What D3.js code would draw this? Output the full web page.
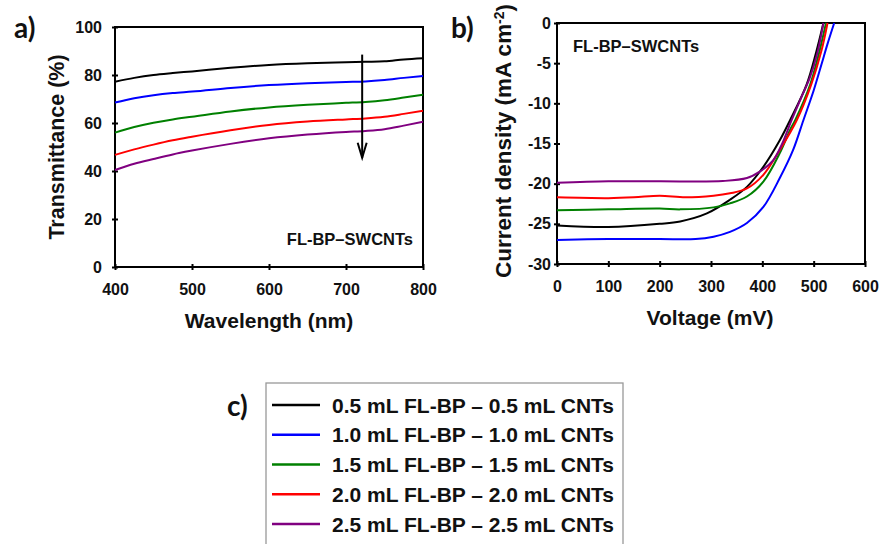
<!DOCTYPE html>
<html>
<head>
  <meta charset="utf-8">
  <style>
    body { margin: 0px; padding: 0px; background: #fff; }
    .tick text { font-family: "Liberation Sans", Arial, sans-serif; font-weight: bold; font-size: 16px; fill: #111; }
    .title { font-family: "Liberation Sans", Arial, sans-serif; font-weight: bold; fill: #111; }
    .lab { font-family: Lato, "Open Sans", sans-serif; font-weight: bold; fill: #111; }
    .tag { font-family: "Liberation Sans", Arial, sans-serif; font-weight: bold; fill: #111; }
  </style>
</head>
<body>
  <div id="chart"></div>
  <script src="https://d3js.org/d3.v7.min.js"></script>
  <script>
    // series names + colours
    var seriesNames = ['0.5 mL FL-BP \u2013 0.5 mL CNTs', '1.0 mL FL-BP \u2013 1.0 mL CNTs', '1.5 mL FL-BP \u2013 1.5 mL CNTs',
                       '2.0 mL FL-BP \u2013 2.0 mL CNTs', '2.5 mL FL-BP \u2013 2.5 mL CNTs'];
    var seriesColors = ['#000000', '#0000ff', '#008000', '#ff0000', '#800080'];

    // panel a: transmittance (%)
    var wavelength = [400, 425, 450, 475, 500, 550, 600, 650, 700, 725, 750, 775, 800];
    var trans05 = [77.2, 78.8, 80.0, 80.8, 81.5, 83.0, 84.2, 84.9, 85.3, 85.5, 85.7, 86.5, 87.0];
    var trans10 = [68.5, 70.3, 71.6, 72.5, 73.1, 74.6, 75.8, 76.6, 77.1, 77.3, 77.9, 78.8, 79.6];
    var trans15 = [56.0, 58.3, 60.1, 61.5, 62.6, 64.8, 66.5, 67.6, 68.4, 68.8, 69.5, 70.6, 71.8];
    var trans20 = [46.7, 49.0, 51.0, 52.8, 54.3, 57.0, 59.2, 60.6, 61.5, 61.9, 62.6, 63.8, 65.1];
    var trans25 = [40.4, 43.0, 45.0, 46.9, 48.5, 51.3, 53.6, 55.2, 56.3, 56.7, 57.4, 58.9, 60.5];
    var wlTicks = [400, 500, 600, 700, 800];
    var transTicks = [0, 20, 40, 60, 80, 100];

    // panel b: J-V curves (mV, mA cm-2)
    var volt05 = [0, 100, 200, 240, 292, 337, 370, 402, 434, 454, 486, 505, 519];
    var curr05 = [-25.2, -25.4, -25.0, -24.7, -23.7, -22.0, -20.4, -17.9, -14.6, -12.1, -7.7, -3.6, 0];
    var volt10 = [0, 100, 200, 270, 305, 337, 370, 402, 434, 460, 480, 500, 515, 527, 540];
    var curr10 = [-27.0, -26.9, -26.9, -26.9, -26.6, -26.0, -24.9, -22.9, -19.3, -15.8, -12.1, -8.4, -5.2, -2.6, 0];
    var volt15 = [0, 100, 200, 240, 305, 337, 370, 402, 434, 454, 464, 493, 511, 524];
    var curr15 = [-23.3, -23.2, -23.1, -23.2, -22.95, -22.45, -21.6, -19.75, -16.2, -13.3, -12.1, -7.7, -3.6, 0];
    var volt20 = [0, 100, 150, 200, 250, 305, 337, 370, 402, 434, 467, 495, 515, 527];
    var curr20 = [-21.7, -21.8, -21.7, -21.5, -21.7, -21.5, -21.2, -20.6, -18.9, -15.8, -12.1, -7.7, -3.5, 0];
    var volt25 = [0, 100, 200, 323, 370, 395, 421, 438, 457, 475, 492, 507, 519];
    var curr25 = [-19.9, -19.7, -19.7, -19.67, -19.3, -18.5, -17.1, -15.1, -12.1, -9.4, -6.9, -3.8, 0];
    var voltTicks = [0, 100, 200, 300, 400, 500, 600];
    var currTicks = [0, -5, -10, -15, -20, -25, -30];

    var transSets = [trans05, trans10, trans15, trans20, trans25];
    var voltSets = [volt05, volt10, volt15, volt20, volt25];
    var currSets = [curr05, curr10, curr15, curr20, curr25];

    var svg = d3.select('#chart').append('svg').attr('width', 883).attr('height', 544);

    function frame(g, x, y, xt, yt, ypad) {
      var xr = x.range(), yr = y.range();
      var ax = g.append('g').attr('transform', 'translate(0,' + yr[0] + ')')
        .call(d3.axisBottom(x).tickValues(xt).tickSize(3).tickPadding(14).tickFormat(function(d) { return String(d); }));
      ax.selectAll('.tick line').attr('y1', -3).attr('stroke-width', 2);
      var ay = g.append('g').attr('transform', 'translate(' + xr[0] + ',0)')
        .call(d3.axisLeft(y).tickValues(yt).tickSize(3).tickPadding(ypad).tickFormat(function(d) { return String(d); }));
      ay.selectAll('.tick line').attr('x1', 3).attr('stroke-width', 2);
      ax.select('.domain').remove();
      ay.select('.domain').remove();
      g.append('rect').attr('x', xr[0]).attr('y', yr[1]).attr('width', xr[1] - xr[0]).attr('height', yr[0] - yr[1])
        .attr('fill', 'none').attr('stroke', '#000').attr('stroke-width', 2);
      return [ax, ay];
    }

    // ---- panel a
    var xA = d3.scaleLinear().domain([400, 800]).range([115, 423]);
    var yA = d3.scaleLinear().domain([0, 100]).range([267, 27]);
    var gA = svg.append('g');
    frame(gA, xA, yA, wlTicks, transTicks, 10);
    var lineA = d3.line().x(function(d) { return xA(d[0]); }).y(function(d) { return yA(d[1]); }).curve(d3.curveMonotoneX);
    transSets.forEach(function(s, i) {
      gA.append('path').datum(wavelength.map(function(w, j) { return [w, s[j]]; }))
        .attr('d', lineA).attr('fill', 'none').attr('stroke', seriesColors[i]).attr('stroke-width', 2);
    });
    // arrow
    gA.append('line').attr('x1', xA(721)).attr('x2', xA(721)).attr('y1', yA(88.5)).attr('y2', yA(45.5))
      .attr('stroke', '#000').attr('stroke-width', 2);
    gA.append('path')
      .attr('d', 'M' + (xA(721) - 4.5) + ',' + (yA(45.5) - 15) + 'L' + xA(721) + ',' + yA(45.5) + 'L' + (xA(721) + 4.5) + ',' + (yA(45.5) - 15))
      .attr('fill', 'none').attr('stroke', '#000').attr('stroke-width', 2);
    gA.append('text').attr('class', 'tag').attr('x', 413).attr('y', 245).attr('text-anchor', 'end')
      .style('font-size', '16.5px').text('FL-BP\u2013SWCNTs');
    gA.append('text').attr('class', 'title').attr('text-anchor', 'middle').attr('x', 269).attr('y', 328)
      .style('font-size', '21px').text('Wavelength (nm)');
    gA.append('text').attr('class', 'title').attr('text-anchor', 'middle')
      .attr('transform', 'translate(64,147) rotate(-90)').style('font-size', '21.5px').text('Transmittance (%)');
    svg.append('text').attr('class', 'lab').attr('x', 14).attr('y', 38).style('font-size', '28px').text('a)');

    // ---- panel b
    var xB = d3.scaleLinear().domain([0, 600]).range([557, 865]);
    var yB = d3.scaleLinear().domain([-30, 0]).range([264, 23]);
    var gB = svg.append('g');
    frame(gB, xB, yB, voltTicks, currTicks, 3);
    var lineB = d3.line().x(function(d) { return xB(d[0]); }).y(function(d) { return yB(d[1]); }).curve(d3.curveCatmullRom.alpha(0.5));
    [0, 2, 3, 4, 1].forEach(function(i) {
      gB.append('path').datum(voltSets[i].map(function(v, j) { return [v, currSets[i][j]]; }))
        .attr('d', lineB).attr('fill', 'none').attr('stroke', seriesColors[i]).attr('stroke-width', 2);
    });
    gB.append('text').attr('class', 'tag').attr('x', 573).attr('y', 52).style('font-size', '16.5px').text('FL-BP\u2013SWCNTs');
    gB.append('text').attr('class', 'title').attr('text-anchor', 'middle').attr('x', 710).attr('y', 325)
      .style('font-size', '21px').text('Voltage (mV)');
    var yt = gB.append('text').attr('class', 'title').attr('text-anchor', 'middle')
      .attr('transform', 'translate(511,141) rotate(-90)').style('font-size', '22.5px');
    yt.append('tspan').text('Current density (mA cm');
    yt.append('tspan').attr('dy', '-0.5em').style('font-size', '14px').text('-2');
    yt.append('tspan').attr('dy', '0.35em').text(')');
    svg.append('text').attr('class', 'lab').attr('x', 451).attr('y', 38).style('font-size', '28px').text('b)');

    // ---- legend (c)
    var legend = svg.append('g');
    legend.append('rect').attr('x', 266).attr('y', 383).attr('width', 357).attr('height', 180)
      .attr('fill', '#fff').attr('stroke', '#999').attr('stroke-width', 1.3);
    var rowY = d3.scalePoint().domain(seriesNames).range([405, 524]);
    seriesNames.forEach(function(n, i) {
      legend.append('line').attr('x1', 272).attr('x2', 320).attr('y1', rowY(n)).attr('y2', rowY(n))
        .attr('stroke', seriesColors[i]).attr('stroke-width', 2.5);
      legend.append('text').attr('class', 'tag').attr('x', 332).attr('y', rowY(n)).attr('dy', '0.36em')
        .style('font-size', '21px').text(n);
    });
    svg.append('text').attr('class', 'lab').attr('x', 227).attr('y', 416).style('font-size', '28px').text('c)');
  </script>
</body>
</html>
